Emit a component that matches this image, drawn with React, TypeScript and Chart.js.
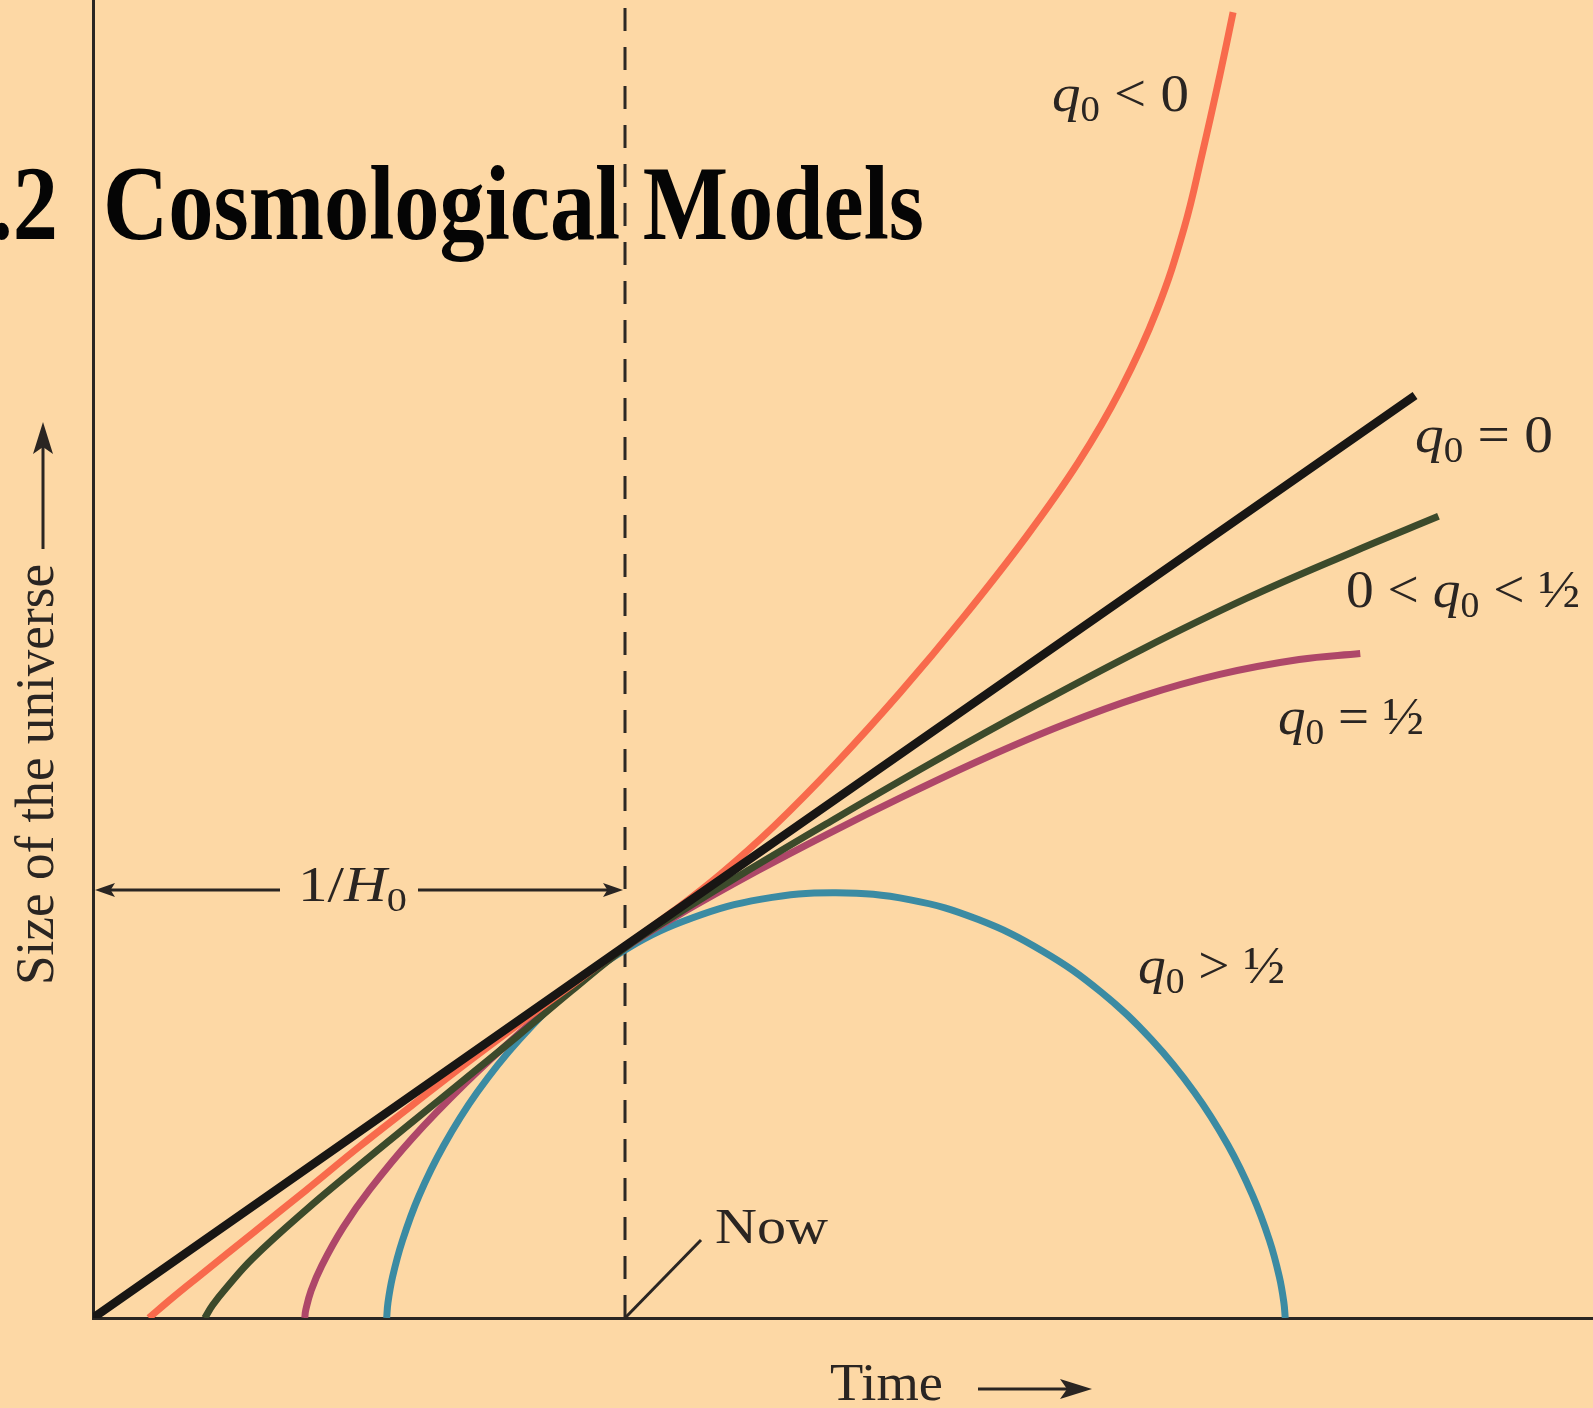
import React, { useEffect, useRef } from 'react';
import { Chart, registerables } from 'chart.js';

Chart.register(...registerables);

const W = 1593;
const H = 1408;

// Axis ranges (time in units of 1/H0, size in units of the present size)
const T_MAX = 2.8195;
const A_MAX = 3.543;
const NOW_T = 1;

// q0 = 0 (empty universe, straight line)
const zeroT = [0, 1, 2.485];
const zeroA = [0, 1, 2.48];

// q0 < 0 (accelerating)
const negT = [0.105, 0.15, 0.2, 0.3, 0.4, 0.5, 0.6, 0.7, 0.8, 0.9, 1.0, 1.09, 1.18, 1.28, 1.398, 1.517, 1.635, 1.754, 1.852, 1.932, 2.0, 2.051, 2.085, 2.118, 2.143];
const negA = [0, 0.055, 0.113, 0.228, 0.343, 0.46, 0.572, 0.683, 0.79, 0.895, 1.0, 1.093, 1.194, 1.322, 1.493, 1.681, 1.882, 2.1, 2.3, 2.497, 2.71, 2.93, 3.13, 3.34, 3.51];

// 0 < q0 < 1/2 (open)
const openT = [0.21, 0.225, 0.25, 0.3, 0.4, 0.5, 0.6, 0.7, 0.8, 0.9, 1.0, 1.1, 1.23, 1.378, 1.576, 1.773, 1.971, 2.169, 2.366, 2.529];
const openA = [0, 0.035, 0.08, 0.16, 0.29, 0.41, 0.527, 0.643, 0.76, 0.88, 0.995, 1.088, 1.202, 1.328, 1.492, 1.648, 1.797, 1.935, 2.058, 2.155];

// q0 = 1/2 (flat)
const flatT = [0.398, 0.4, 0.41, 0.43, 0.47, 0.52, 0.6, 0.7, 0.8, 0.9, 1.0, 1.1, 1.25, 1.378, 1.526, 1.675, 1.823, 1.971, 2.118, 2.267, 2.382];
const flatA = [0, 0.022, 0.074, 0.141, 0.243, 0.345, 0.483, 0.631, 0.764, 0.886, 0.995, 1.083, 1.203, 1.299, 1.404, 1.504, 1.594, 1.671, 1.73, 1.77, 1.786];

// q0 > 1/2 (closed, recollapsing)
const closedT = [0.552, 0.5544, 0.563, 0.5814, 0.6126, 0.659, 0.7218, 0.8012, 0.8967, 1.0062, 1.1273, 1.2566, 1.3965, 1.5364, 1.6641, 1.7852, 1.895, 1.9905, 2.0702, 2.1332, 2.1798, 2.2113, 2.2299, 2.2385, 2.241];
const closedA = [0, 0.041, 0.11, 0.207, 0.328, 0.463, 0.606, 0.748, 0.882, 0.995, 1.076, 1.126, 1.143, 1.124, 1.071, 0.986, 0.876, 0.747, 0.607, 0.465, 0.329, 0.209, 0.111, 0.041, 0];

const zip = (t: number[], a: number[]) => t.map((x, i) => ({ x, y: a[i] }));

const FAMILY = '"Liberation Serif", "Times New Roman", serif';
const INK = '#2a2522';
const BG = '#FDD8A5';

type Part = { t: string; it?: boolean; sub?: boolean };

function rich(ctx: CanvasRenderingContext2D, parts: Part[], x: number, y: number, size: number, targetW?: number, bold = false, forcedScale?: number) {
  const subSize = size * 0.68;
  const fonts = parts.map(p => `${p.it ? 'italic ' : ''}${bold ? 'bold ' : ''}${p.sub ? subSize : size}px ${FAMILY}`);
  const widths = parts.map((p, i) => { ctx.font = fonts[i]; return ctx.measureText(p.t).width; });
  const total = widths.reduce((s, v) => s + v, 0);
  const sx = forcedScale ?? (targetW ? targetW / total : 1);
  ctx.save();
  ctx.translate(x, y);
  ctx.scale(sx, 1);
  ctx.textAlign = 'left';
  ctx.textBaseline = 'alphabetic';
  let cx = 0;
  parts.forEach((p, i) => {
    ctx.font = fonts[i];
    ctx.fillText(p.t, cx, p.sub ? size * 0.2 : 0);
    cx += widths[i];
  });
  ctx.restore();
  return { sx, total };
}

function arrow(ctx: CanvasRenderingContext2D, x1: number, y1: number, x2: number, y2: number, len: number, hw: number, lw: number) {
  const ang = Math.atan2(y2 - y1, x2 - x1);
  const c = Math.cos(ang), s = Math.sin(ang);
  ctx.save();
  ctx.lineWidth = lw;
  ctx.beginPath();
  ctx.moveTo(x1, y1);
  ctx.lineTo(x2 - c * len * 0.7, y2 - s * len * 0.7);
  ctx.stroke();
  ctx.beginPath();
  ctx.moveTo(x2, y2);
  ctx.lineTo(x2 - c * len - s * hw, y2 - s * len + c * hw);
  ctx.lineTo(x2 - c * len * 0.78, y2 - s * len * 0.78);
  ctx.lineTo(x2 - c * len + s * hw, y2 - s * len - c * hw);
  ctx.closePath();
  ctx.fill();
  ctx.restore();
}

const q = (rest: Part[]): Part[] => [{ t: 'q', it: true }, { t: '0', sub: true }, ...rest];

const curveLabels = [
  { parts: q([{ t: ' < 0' }]), x: 1052, y: 111, w: 137 },
  { parts: q([{ t: ' = 0' }]), x: 1415, y: 452, w: 138 },
  { parts: [{ t: '0 < ' }, ...q([{ t: ' < ½' }])], x: 1346, y: 607, w: 234 },
  { parts: q([{ t: ' = ½' }]), x: 1278, y: 734, w: 146 },
  { parts: q([{ t: ' > ½' }]), x: 1138, y: 983, w: 147 },
];

const bgPlugin = {
  id: 'bg',
  beforeDraw(chart: any) {
    const ctx = chart.ctx;
    ctx.save();
    ctx.fillStyle = BG;
    ctx.fillRect(0, 0, chart.width, chart.height);
    ctx.restore();
  },
};

const annotPlugin = {
  id: 'annot',
  afterDraw(chart: any) {
    const ctx: CanvasRenderingContext2D = chart.ctx;
    const xs = chart.scales.x;
    const ys = chart.scales.y;
    const x0 = xs.getPixelForValue(0);
    const xNow = xs.getPixelForValue(NOW_T);
    const yBase = ys.getPixelForValue(0);
    ctx.save();
    ctx.fillStyle = INK;
    ctx.strokeStyle = INK;

    // Title
    ctx.fillStyle = '#050505';
    const { sx } = rich(ctx, [{ t: 'Cosmological Models' }], 103, 239, 105, 821, true);
    ctx.font = `bold 105px ${FAMILY}`;
    const wNum = ctx.measureText('1.2').width * sx;
    rich(ctx, [{ t: '1.2' }], 58 - wNum, 239, 105, undefined, true, sx);
    ctx.fillStyle = INK;

    // curve labels
    curveLabels.forEach(l => rich(ctx, l.parts, l.x, l.y, 52, l.w));

    // 1/H0 span arrow
    const yH = 890;
    arrow(ctx, 280, yH, x0 + 2, yH, 20, 7, 2.8);
    arrow(ctx, 418, yH, xNow - 2, yH, 20, 7, 2.8);
    rich(ctx, [{ t: '1/' }, { t: 'H', it: true }, { t: '0', sub: true }], 298, 901, 50, 109);

    // Now leader
    ctx.lineWidth = 3;
    ctx.beginPath();
    ctx.moveTo(xNow, yBase);
    ctx.lineTo(701, 1240);
    ctx.stroke();
    rich(ctx, [{ t: 'Now' }], 715, 1243, 50, 113);

    // Time label
    rich(ctx, [{ t: 'Time' }], 830, 1400, 52, 113);
    arrow(ctx, 978, 1389, 1092, 1389, 32, 10, 3);

    // Size label (rotated)
    ctx.save();
    ctx.translate(53, 985);
    ctx.rotate(-Math.PI / 2);
    rich(ctx, [{ t: 'Size of the universe' }], 0, 0, 54, 421);
    ctx.restore();
    arrow(ctx, 43, 549, 43, 422, 32, 10, 3);

    ctx.restore();
  },
};

export default function App() {
  const ref = useRef<HTMLCanvasElement | null>(null);

  useEffect(() => {
    if (!ref.current) return;
    const lineDs = (label: string, data: any[], color: string, width: number, tension = 0.4) => ({
      label,
      data,
      borderColor: color,
      backgroundColor: color,
      borderWidth: width,
      pointRadius: 0,
      pointHoverRadius: 0,
      fill: false,
      tension,
      borderCapStyle: 'butt' as const,
    });
    const chart = new Chart(ref.current, {
      type: 'line',
      data: {
        datasets: [
          lineDs('q0 = 0', zip(zeroT, zeroA), '#181614', 8.5, 0),
          lineDs('q0 < 0', zip(negT, negA), '#F86A4C', 7),
          lineDs('0 < q0 < 1/2', zip(openT, openA), '#3C4A2B', 7),
          lineDs('q0 = 1/2', zip(flatT, flatA), '#AE4769', 7),
          lineDs('q0 > 1/2', zip(closedT, closedA), '#3B8BA3', 7),
          {
            ...lineDs('now', [{ x: NOW_T, y: 0 }, { x: NOW_T, y: A_MAX }], '#2c2824', 3, 0),
            borderDash: [23, 16],
          },
        ],
      },
      options: {
        responsive: false,
        maintainAspectRatio: false,
        devicePixelRatio: 1,
        animation: false,
        parsing: true,
        layout: { padding: { left: 93, right: 0, top: 0, bottom: H - 1318 } },
        plugins: { legend: { display: false }, tooltip: { enabled: false }, title: { display: false } },
        scales: {
          x: {
            type: 'linear',
            min: 0,
            max: T_MAX,
            ticks: { display: false },
            grid: { display: false },
            border: { display: true, color: '#2a2622', width: 3 },
            afterFit: (s: any) => { s.height = 0; },
          },
          y: {
            type: 'linear',
            min: 0,
            max: A_MAX,
            ticks: { display: false },
            grid: { display: false },
            border: { display: true, color: '#2a2622', width: 3 },
            afterFit: (s: any) => { s.width = 0; },
          },
        },
      },
      plugins: [bgPlugin, annotPlugin],
    });
    return () => chart.destroy();
  }, []);

  return (
    <div style={{ position: 'absolute', left: 0, top: 0, width: W, height: H, background: BG }}>
      <canvas ref={ref} width={W} height={H} style={{ display: 'block' }} />
    </div>
  );
}
